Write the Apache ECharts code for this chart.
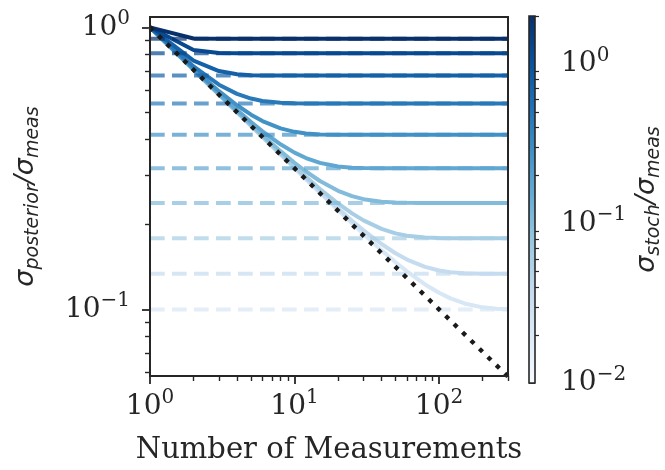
<!DOCTYPE html>
<html>
<head>
<meta charset="UTF-8">
<title>Posterior width vs number of measurements</title>
<script src="https://cdn.jsdelivr.net/npm/echarts@6.0.0/dist/echarts.min.js"></script>
<style>
    html, body { margin: 0; padding: 0; background: #fff; }
    #chart { width: 665px; height: 470px; }
</style>
</head>
<body>
<div id="chart"></div>
<script>
const nMeas = [1, 2, 3, 4, 5, 6, 8, 10, 12, 15, 20, 25, 30, 40, 50, 60, 80, 100, 120, 150, 200, 250, 300];

// sigma_stoch / sigma_meas of each curve (also picks its colour)
const sigmaStoch = [0.01, 0.018, 0.0325, 0.0585, 0.105, 0.19, 0.342, 0.616, 1.11, 2.0];

// sigma_posterior / sigma_meas, one row per sigmaStoch, at nMeas
const curve001 = [1, 0.7071, 0.5774, 0.5001, 0.4474, 0.4084, 0.3539, 0.3167, 0.2893, 0.2591, 0.2250, 0.2019, 0.1851, 0.1621, 0.1469, 0.1363, 0.1225, 0.1144, 0.1093, 0.1049, 0.1016, 0.1004, 0.1000];
const curve002 = [1, 0.7072, 0.5775, 0.5003, 0.4477, 0.4089, 0.3546, 0.3177, 0.2906, 0.2610, 0.2280, 0.2062, 0.1907, 0.1704, 0.1580, 0.1501, 0.1414, 0.1373, 0.1354, 0.1342, 0.1337, 0.1336, 0.1336];
const curve003 = [1, 0.7073, 0.5779, 0.5009, 0.4486, 0.4102, 0.3568, 0.3209, 0.2949, 0.2671, 0.2373, 0.2189, 0.2067, 0.1928, 0.1859, 0.1824, 0.1797, 0.1790, 0.1788, 0.1787, 0.1787, 0.1787, 0.1787];
const curve006 = [1, 0.7077, 0.5790, 0.5030, 0.4518, 0.4146, 0.3638, 0.3309, 0.3081, 0.2851, 0.2632, 0.2519, 0.2458, 0.2406, 0.2390, 0.2385, 0.2383, 0.2383, 0.2383, 0.2383, 0.2383, 0.2383, 0.2383];
const curve011 = [1, 0.7091, 0.5826, 0.5095, 0.4615, 0.4279, 0.3847, 0.3594, 0.3439, 0.3306, 0.3211, 0.3179, 0.3168, 0.3162, 0.3162, 0.3162, 0.3162, 0.3162, 0.3162, 0.3162, 0.3162, 0.3162, 0.3162];
const curve019 = [1, 0.7133, 0.5939, 0.5291, 0.4900, 0.4652, 0.4382, 0.4260, 0.4204, 0.4171, 0.4158, 0.4156, 0.4156, 0.4156, 0.4156, 0.4156, 0.4156, 0.4156, 0.4156, 0.4156, 0.4156, 0.4156, 0.4156];
const curve034 = [1, 0.7264, 0.6261, 0.5808, 0.5589, 0.5481, 0.5399, 0.5378, 0.5373, 0.5371, 0.5371, 0.5371, 0.5371, 0.5371, 0.5371, 0.5371, 0.5371, 0.5371, 0.5371, 0.5371, 0.5371, 0.5371, 0.5371];
const curve062 = [1, 0.7614, 0.6998, 0.6820, 0.6767, 0.6752, 0.6746, 0.6745, 0.6745, 0.6745, 0.6745, 0.6745, 0.6745, 0.6745, 0.6745, 0.6745, 0.6745, 0.6745, 0.6745, 0.6745, 0.6745, 0.6745, 0.6745];
const curve111 = [1, 0.8310, 0.8111, 0.8087, 0.8084, 0.8084, 0.8084, 0.8084, 0.8084, 0.8084, 0.8084, 0.8084, 0.8084, 0.8084, 0.8084, 0.8084, 0.8084, 0.8084, 0.8084, 0.8084, 0.8084, 0.8084, 0.8084];
const curve200 = [1, 0.9129, 0.9103, 0.9102, 0.9102, 0.9102, 0.9102, 0.9102, 0.9102, 0.9102, 0.9102, 0.9102, 0.9102, 0.9102, 0.9102, 0.9102, 0.9102, 0.9102, 0.9102, 0.9102, 0.9102, 0.9102, 0.9102];
const curves = [curve001, curve002, curve003, curve006, curve011, curve019, curve034, curve062, curve111, curve200];

// long-run level of each curve (dashed lines)
const asymptotes = [0.0998, 0.1336, 0.1787, 0.2383, 0.3162, 0.4156, 0.5371, 0.6745, 0.8084, 0.9102];
const asymNRange = [1, 300];

// 1/sqrt(N) reference (dotted)
const refN = [1, 300];
const refSigma = [1.0, 0.0577];

// ticks
const xMajor = [1, 10, 100];
const xMinor = [2, 3, 4, 5, 6, 7, 8, 9, 20, 30, 40, 50, 60, 70, 80, 90, 200, 300];
const yMajor = [0.1, 1];
const yMinor = [0.06, 0.07, 0.08, 0.09, 0.2, 0.3, 0.4, 0.5, 0.6, 0.7, 0.8, 0.9];
const cbMajor = [0.01, 0.1, 1];
const cbMinor = [0.02, 0.03, 0.04, 0.05, 0.06, 0.07, 0.08, 0.09, 0.2, 0.3, 0.4, 0.5, 0.6, 0.7, 0.8, 0.9, 2];
const cbRange = [0.01, 2];

// matplotlib "Blues"
const BLUES = ['#f7fbff', '#deebf7', '#c6dbef', '#9ecae1', '#6baed6', '#4292c6', '#2171b5', '#08519c', '#08306b'];

function hex2rgb(h) {
    return [1, 3, 5].map(i => parseInt(h.substr(i, 2), 16));
}
function blues(t) {
    t = Math.max(0, Math.min(1, t)) * (BLUES.length - 1);
    const i = Math.min(Math.floor(t), BLUES.length - 2);
    const f = t - i;
    const a = hex2rgb(BLUES[i]), b = hex2rgb(BLUES[i + 1]);
    const c = a.map((v, k) => Math.round(v + (b[k] - v) * f));
    return 'rgb(' + c.join(',') + ')';
}
function cmapPos(s) {
    return Math.log(s / cbRange[0]) / Math.log(cbRange[1] / cbRange[0]);
}
// the lines sit a little darker in the map than the bar itself
function lineColor(s) {
    return blues(0.16 + 0.84 * cmapPos(s));
}

const INK = '#262626';
const SERIF = 'DejaVu Serif';

function pow10Label(v) {
    const e = Math.round(Math.log10(v));
    return '{b|10}{s|' + (e < 0 ? '\u2212' + (-e) : e) + '}';
}
const powRich = {
    b: { fontFamily: SERIF, fontSize: 28, color: INK },
    s: { fontFamily: SERIF, fontSize: 20, color: INK, padding: [0, 0, 17, 0] }
};
const sigmaRich = {
    g: { fontFamily: 'DejaVu Sans', fontStyle: 'italic', fontSize: 27, color: INK },
    sub: { fontFamily: 'DejaVu Sans', fontStyle: 'italic', fontSize: 19, color: INK, padding: [15, 0, 0, 0] }
};

const series = [];
sigmaStoch.forEach((s, i) => {
    const col = lineColor(s);
    series.push({
        type: 'line',
        xAxisIndex: 0, yAxisIndex: 0,
        data: nMeas.map((n, k) => [n, curves[i][k]]),
        showSymbol: false,
        lineStyle: { color: col, width: 4 },
        silent: true
    });
    series.push({
        type: 'line',
        xAxisIndex: 0, yAxisIndex: 0,
        data: asymNRange.map(n => [n, asymptotes[i]]),
        showSymbol: false,
        lineStyle: { color: col, width: 4, type: [14.7, 7.3], opacity: 0.7 },
        silent: true
    });
});
series.push({
    type: 'line',
    xAxisIndex: 0, yAxisIndex: 0,
    data: refN.map((n, k) => [n, refSigma[k]]),
    showSymbol: false,
    lineStyle: { color: '#1a1a1a', width: 4.4, type: [4.4, 7.4] },
    silent: true,
    z: 5
});

// colour bar
series.push({
    type: 'custom',
    xAxisIndex: 2, yAxisIndex: 2,
    data: [[0, cbRange[0], cbRange[1]]],
    renderItem: function (params, api) {
        const p0 = api.coord([0, api.value(2)]);
        const p1 = api.coord([1, api.value(1)]);
        const stops = BLUES.slice().reverse().map((c, k) => ({ offset: k / (BLUES.length - 1), color: c }));
        return {
            type: 'rect',
            shape: { x: p0[0], y: p0[1], width: p1[0] - p0[0], height: p1[1] - p0[1] },
            style: { fill: new echarts.graphic.LinearGradient(0, 0, 0, 1, stops) }
        };
    },
    silent: true
});

const tickLine = { color: INK, width: 1.8 };

const option = {
    animation: false,
    backgroundColor: '#fff',
    grid: [
        { left: 150, top: 17, width: 358, height: 366, show: true, borderColor: INK, borderWidth: 2, backgroundColor: 'transparent', z: 6 },
        { left: 529, top: 16, width: 19, height: 367, show: true, borderColor: INK, borderWidth: 1.6, backgroundColor: 'transparent', z: 6 }
    ],
    xAxis: [
        {
            type: 'log', gridIndex: 0, min: 1, max: 300, position: 'bottom',
            axisLine: { show: false },
            axisTick: { length: 8, lineStyle: tickLine, customValues: xMajor },
            axisLabel: { customValues: xMajor, formatter: pow10Label, rich: powRich, margin: 12 },
            splitLine: { show: false },
            name: 'Number of Measurements', nameLocation: 'middle', nameGap: 60,
            nameTextStyle: { fontFamily: SERIF, fontSize: 29, color: INK }
        },
        {
            type: 'log', gridIndex: 0, min: 1, max: 300, position: 'bottom',
            axisLine: { show: false },
            axisTick: { length: 5, lineStyle: { color: INK, width: 1.4 }, customValues: xMinor },
            axisLabel: { show: false },
            splitLine: { show: false }
        },
        {
            type: 'value', gridIndex: 1, min: 0, max: 1, show: false
        }
    ],
    yAxis: [
        {
            type: 'log', gridIndex: 0, min: 0.058, max: 1.088, position: 'left',
            axisLine: { show: false },
            axisTick: { length: 8, lineStyle: tickLine, customValues: yMajor },
            axisLabel: { customValues: yMajor, formatter: pow10Label, rich: powRich, margin: 20 },
            splitLine: { show: false },
            name: '{g|\u03c3}{sub|posterior}{g|/\u03c3}{sub|meas}', nameLocation: 'middle', nameGap: 107,
            nameTextStyle: { rich: sigmaRich }
        },
        {
            type: 'log', gridIndex: 0, min: 0.058, max: 1.088, position: 'left',
            axisLine: { show: false },
            axisTick: { length: 5, lineStyle: { color: INK, width: 1.4 }, customValues: yMinor },
            axisLabel: { show: false },
            splitLine: { show: false }
        },
        {
            type: 'log', gridIndex: 1, min: cbRange[0], max: cbRange[1], position: 'right',
            axisLine: { show: false },
            axisTick: { length: 6, lineStyle: tickLine, customValues: cbMajor },
            axisLabel: { customValues: cbMajor, formatter: pow10Label, rich: powRich, margin: 26 },
            splitLine: { show: false },
            name: '{g|\u03c3}{sub|stoch}{g|/\u03c3}{sub|meas}', nameLocation: 'middle', nameGap: 95, nameRotate: 90,
            nameTextStyle: { rich: sigmaRich }
        },
        {
            type: 'log', gridIndex: 1, min: cbRange[0], max: cbRange[1], position: 'right',
            axisLine: { show: false },
            axisTick: { length: 4, lineStyle: { color: INK, width: 1.2 }, customValues: cbMinor },
            axisLabel: { show: false },
            splitLine: { show: false }
        }
    ],
    series: series
};

const chart = echarts.init(document.getElementById('chart'), null, { renderer: 'canvas' });
chart.setOption(option);
</script>
</body>
</html>
